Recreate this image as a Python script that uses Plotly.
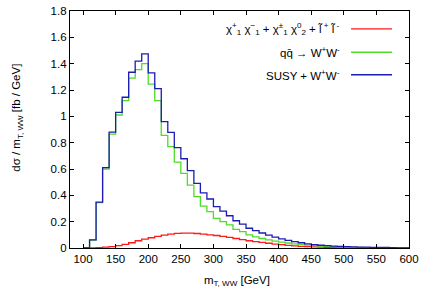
import plotly.graph_objects as go

# bin left edges (GeV), width 10 GeV
bin_left = [110, 120, 130, 140, 150, 160, 170, 180, 190, 200,
            210, 220, 230, 240, 250, 260, 270, 280, 290, 300,
            310, 320, 330, 340, 350, 360, 370, 380, 390, 400,
            410, 420, 430, 440, 450, 460, 470, 480, 490, 500,
            510, 520, 530, 540, 550, 560, 570, 580, 590]
bin_width = 10

susy = [0.0, 0.003, 0.006, 0.010, 0.018, 0.028, 0.040, 0.055, 0.067, 0.078,
        0.089, 0.098, 0.105, 0.111, 0.113, 0.113, 0.110, 0.105, 0.100, 0.095,
        0.088, 0.080, 0.072, 0.063, 0.055, 0.048, 0.042, 0.036, 0.030, 0.025,
        0.020, 0.016, 0.013, 0.010, 0.008, 0.006, 0.005, 0.004, 0.003, 0.003,
        0.002, 0.002, 0.002, 0.001, 0.001, 0.001, 0.001, 0.0, 0.0]

ww = [0.060, 0.345, 0.600, 0.865, 1.010, 1.120, 1.290, 1.355, 1.400, 1.245,
      1.120, 0.855, 0.770, 0.652, 0.567, 0.478, 0.390, 0.318, 0.276, 0.225,
      0.200, 0.175, 0.142, 0.124, 0.099, 0.085, 0.072, 0.062, 0.052, 0.045,
      0.038, 0.032, 0.027, 0.022, 0.018, 0.015, 0.012, 0.010, 0.008, 0.006,
      0.005, 0.004, 0.003, 0.003, 0.002, 0.002, 0.001, 0.001, 0.001]

total = [0.062, 0.348, 0.610, 0.880, 1.030, 1.145, 1.335, 1.420, 1.475, 1.330,
         1.210, 0.960, 0.878, 0.762, 0.678, 0.587, 0.491, 0.418, 0.372, 0.314,
         0.280, 0.245, 0.207, 0.182, 0.150, 0.132, 0.114, 0.098, 0.083, 0.070,
         0.058, 0.048, 0.040, 0.032, 0.026, 0.021, 0.018, 0.015, 0.012, 0.010,
         0.008, 0.007, 0.006, 0.005, 0.005, 0.004, 0.002, 0.001, 0.001]

x_ticks = [100, 150, 200, 250, 300, 350, 400, 450, 500, 550, 600]
y_ticks = [0, 0.2, 0.4, 0.6, 0.8, 1, 1.2, 1.4, 1.6, 1.8]
y_tick_text = ["0", "0.2", "0.4", "0.6", "0.8", "1", "1.2", "1.4", "1.6", "1.8"]

labels = [
    "χ<sup>+</sup><sub>1</sub> χ<sup>−</sup><sub>1</sub> + χ<sup>±</sup><sub>1</sub> χ<sup>0</sup><sub>2</sub> + l\u0303<sup> +</sup> l\u0303<sup> -</sup>",
    "qq\u0304 → W<sup>+</sup>W<sup>-</sup>",
    "SUSY + W<sup>+</sup>W<sup>-</sup>",
]
colors = ["#ff1a1a", "#4fdc2a", "#1c1cb4"]
series = [susy, ww, total]

FONT = "Liberation Sans, Arial, sans-serif"

fig = go.Figure()
for vals, col in zip(series, colors):
    xs = [bin_left[0] - bin_width] + bin_left + [bin_left[-1] + bin_width]
    ys = [0] + vals + [vals[-1]]
    fig.add_trace(go.Scatter(x=xs, y=ys, mode="lines", line=dict(color=col, width=1.3, shape="hv"),
                             showlegend=False, hoverinfo="skip"))

# manual gnuplot-style legend (text right aligned, sample line to the right)
rows_y = [0.925, 0.826, 0.731]  # paper coords
for lab, col, yy in zip(labels, colors, rows_y):
    fig.add_annotation(xref="paper", yref="paper", x=0.802, y=yy, text=lab, showarrow=False,
                       xanchor="right", yanchor="middle", font=dict(family=FONT, size=11.5, color="black"))
    fig.add_shape(type="line", xref="paper", yref="paper", x0=0.829, x1=0.95, y0=yy, y1=yy,
                  line=dict(color=col, width=1.3))

# axis titles
fig.add_annotation(xref="paper", yref="paper", x=0.493, y=-0.139, text="m<sub>T, WW</sub> [GeV]",
                   showarrow=False, xanchor="center", yanchor="middle",
                   font=dict(family=FONT, size=11.5, color="black"))
fig.add_annotation(xref="paper", yref="paper", x=-0.156, y=0.55, text="dσ / m<sub>T, WW</sub> [fb / GeV]",
                   showarrow=False, xanchor="center", yanchor="middle", textangle=-90,
                   font=dict(family=FONT, size=11.5, color="black"))

axis_common = dict(showline=True, linecolor="black", linewidth=1.3, mirror="ticks",
                   ticks="inside", ticklen=4, tickwidth=1, tickcolor="black",
                   showgrid=False, zeroline=False, automargin=False,
                   tickfont=dict(family=FONT, size=11.5, color="black"))

fig.update_xaxes(range=[80, 600], tickvals=x_ticks, **axis_common)
fig.update_yaxes(range=[0, 1.8], tickvals=y_ticks, ticktext=y_tick_text, **axis_common)

fig.update_layout(width=424, height=297, margin=dict(l=70, r=15, t=11, b=49),
                  paper_bgcolor="white", plot_bgcolor="white",
                  font=dict(family=FONT, size=11.5, color="black"))

fig.write_html("out.html", config={"displayModeBar": False},
               post_script="document.body.style.margin='0';document.body.style.overflow='hidden';")
